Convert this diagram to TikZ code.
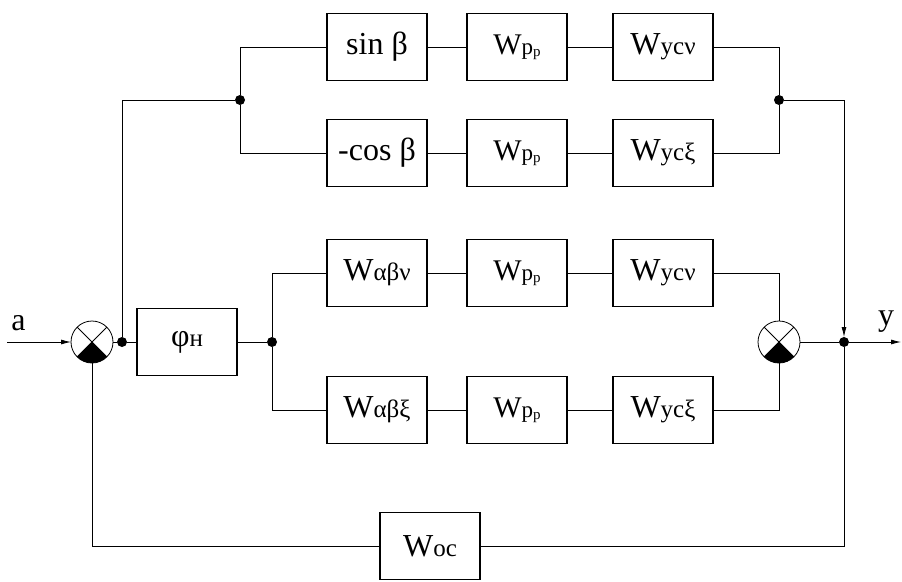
\documentclass[tikz,border=0pt]{standalone}
\usepackage{fontspec}
\setmainfont{Liberation Serif}
\usepackage{tikz}
\usetikzlibrary{positioning, calc, arrows.meta}

\newcommand{\smallsub}[1]{{\fontsize{25}{25}\selectfont #1}}
\newcommand{\Wpp}{{\fontsize{30}{30}\selectfont W}{\fontsize{23}{23}\selectfont p}\raisebox{-2pt}{\fontsize{15}{15}\selectfont p}}

\begin{document}
\begin{tikzpicture}[x=1pt, y=-1pt, >={Latex[length=10pt,width=5pt]}, font=\fontsize{32}{32}\selectfont]
        \tikzstyle{block} = [rectangle, minimum width=100pt, minimum height=67pt, text centered, draw=black, line width=1.6pt, outer sep=0pt]
        \tikzstyle{summer} = [circle, draw=black, line width=0.8pt, minimum size=42pt, inner sep=0pt, outer sep=0pt,
            path picture={
                \fill (path picture bounding box.center) -- +(-135:25pt) arc[start angle=-135, end angle=-45, radius=25pt] -- cycle;
                \draw[line width=0.8pt] (path picture bounding box.north west) -- (path picture bounding box.south east)
                    (path picture bounding box.north east) -- (path picture bounding box.south west);
            }]
        \tikzstyle{junction} = [circle, fill=black, minimum size=10pt, inner sep=0pt, outer sep=0pt]
        \tikzstyle{conn} = [line width=0.8pt]
        \tikzstyle{arrow} = [line width=0.8pt, ->]

        \useasboundingbox (0,0) rectangle (902,581);

        % Input summer and main path
        \node (sumL) [summer] at (92,342) {};
        \node (dotL) [junction, right=4pt of sumL] {};
        \node (phi) [block, right=10pt of dotL] {φ\smallsub{н}};
        \node (dotM) [junction, right=30pt of phi] {};

        % Upper branch
        \node (dotA) [junction] at (240,100) {};
        \node (sinb) [block] at (377,47) {sin β};
        \node (wpp1) [block, right=40pt of sinb] {\Wpp};
        \node (wyc1) [block, right=46pt of wpp1] {W\smallsub{ycν}};
        \node (cosb) [block] at (377,153) {-cos β};
        \node (wpp2) [block, right=40pt of cosb] {\Wpp};
        \node (wyc2) [block, right=46pt of wpp2] {W\smallsub{ycξ}};
        \node (dotB) [junction] at (779,100) {};

        % Lower branch
        \node (wab1) [block] at (377,273) {W\smallsub{αβν}};
        \node (wpp3) [block, right=40pt of wab1] {\Wpp};
        \node (wyc3) [block, right=46pt of wpp3] {W\smallsub{ycν}};
        \node (wab2) [block] at (377,410) {W\smallsub{αβξ}};
        \node (wpp4) [block, right=40pt of wab2] {\Wpp};
        \node (wyc4) [block, right=46pt of wpp4] {W\smallsub{ycξ}};
        \node (sumR) [summer] at (779,342) {};
        \node (dotR) [junction] at (844,342) {};

        % Feedback
        \node (woc) [block] at (430,546) {W\smallsub{oc}};

        % Input / output
        \coordinate (in) at (7,342);
        \coordinate (out) at (901,342);
        \node (alab) [anchor=base] at (18.5,330) {a};
        \node (ylab) [anchor=base] at (886,325) {y};

        % Connectors
        \draw [arrow] (in) -- (sumL);
        \draw [conn] (sumL) -- (dotL) -- (phi);
        \draw [conn] (phi) -- (dotM);
        \draw [conn] (dotL) |- (dotA);
        \draw [conn] (dotA) |- (sinb);
        \draw [conn] (dotA) |- (cosb);
        \draw [conn] (sinb) -- (wpp1);
        \draw [conn] (wpp1) -- (wyc1);
        \draw [conn] (cosb) -- (wpp2);
        \draw [conn] (wpp2) -- (wyc2);
        \draw [conn] (wyc1) -| (dotB);
        \draw [conn] (wyc2) -| (dotB);
        \draw [arrow] (dotB) -| (dotR);
        \draw [conn] (dotM) |- (wab1);
        \draw [conn] (dotM) |- (wab2);
        \draw [conn] (wab1) -- (wpp3);
        \draw [conn] (wpp3) -- (wyc3);
        \draw [conn] (wab2) -- (wpp4);
        \draw [conn] (wpp4) -- (wyc4);
        \draw [conn] (wyc3) -| (sumR);
        \draw [conn] (wyc4) -| (sumR);
        \draw [conn] (sumR) -- (dotR);
        \draw [arrow] (dotR) -- (out);
        \draw [conn] (dotR) |- (woc);
        \draw [conn] (woc) -| (sumL);
\end{tikzpicture}
\end{document}
